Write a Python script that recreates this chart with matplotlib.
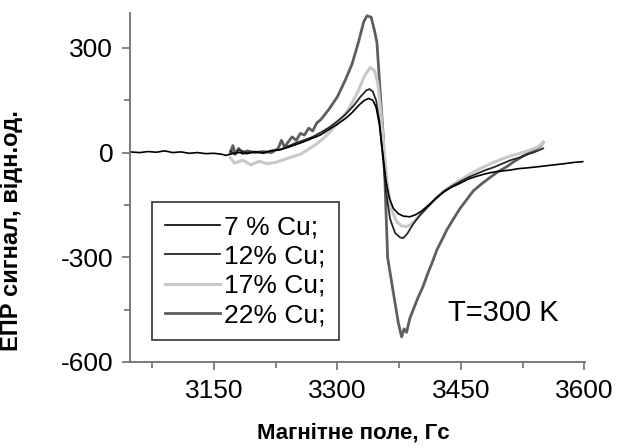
import matplotlib
matplotlib.use("Agg")
import matplotlib.pyplot as plt
from matplotlib.ticker import MultipleLocator

plt.rcParams['font.family'] = ['Liberation Sans', 'DejaVu Sans']
plt.rcParams['axes.unicode_minus'] = False

# EPR derivative spectra (field in Gs, signal in arb. units)
x_7 = [3048, 3060, 3070, 3080, 3090, 3100, 3110, 3120, 3130, 3140, 3150, 3160,
       3165, 3172, 3180, 3190, 3200, 3210, 3220, 3230, 3240, 3258, 3279, 3299,
       3310, 3318, 3327, 3333, 3338, 3343, 3347, 3351, 3355, 3359, 3363, 3368,
       3374, 3380, 3388, 3395, 3402, 3410, 3418, 3428, 3438, 3449, 3459, 3469,
       3478, 3485, 3495, 3510, 3520, 3530, 3546, 3560, 3575, 3588, 3598]
y_7 = [2, 0, 3, 1, 5, 0, 2, -2, 0, -3, -2, -5,
       -8, -3, 0, -3, 2, 0, 5, 8, 15, 30, 50, 80,
       98, 115, 138, 150, 155, 150, 130, 80, 0, -80, -130, -160,
       -175, -182, -184, -178, -168, -152, -135, -115, -100, -88, -76, -68,
       -62, -58, -54, -50, -46, -44, -40, -36, -32, -28, -26]

x_12 = [3170, 3175, 3180, 3190, 3200, 3210, 3220, 3230, 3240, 3250, 3260, 3270,
        3280, 3290, 3300, 3310, 3320, 3328, 3335, 3339, 3343, 3347, 3351, 3355,
        3359, 3364, 3370, 3376, 3380, 3385, 3392, 3400, 3410, 3420, 3430, 3440,
        3450, 3460, 3470, 3480, 3490, 3500, 3510, 3520, 3530, 3540, 3550]
y_12 = [5, -5, 8, 0, 3, -2, 6, 8, 18, 28, 36, 45,
        58, 72, 90, 110, 135, 160, 178, 182, 175, 150, 90, -10,
        -110, -190, -230, -243, -245, -232, -205, -180, -155, -130, -110, -95,
        -82, -70, -60, -50, -42, -32, -22, -15, -6, 2, 12]

x_17 = [3170, 3175, 3185, 3195, 3205, 3215, 3225, 3235, 3245, 3255, 3265, 3275,
        3285, 3295, 3305, 3315, 3325, 3333, 3340, 3345, 3349, 3353, 3357, 3361,
        3366, 3372, 3378, 3384, 3390, 3398, 3408, 3418, 3428, 3440, 3450, 3462,
        3474, 3486, 3498, 3510, 3522, 3535, 3545, 3550]
y_17 = [-15, -30, -22, -35, -25, -32, -28, -20, -12, -5, 10, 25,
        45, 70, 95, 130, 175, 220, 244, 235, 200, 110, 0, -100,
        -165, -198, -210, -212, -205, -185, -160, -135, -112, -92, -78, -60,
        -45, -32, -20, -10, -2, 8, 18, 30]

x_22 = [3170, 3173, 3176, 3180, 3185, 3190, 3200, 3210, 3220, 3228, 3232, 3236,
        3240, 3245, 3250, 3255, 3260, 3265, 3270, 3275, 3280, 3290, 3300, 3310,
        3318, 3326, 3332, 3336, 3341, 3345, 3348, 3352, 3356, 3361, 3368, 3374,
        3378, 3381, 3384, 3388, 3392, 3398, 3404, 3410, 3415, 3421, 3427, 3433,
        3441, 3449, 3457, 3465, 3475, 3485, 3495, 3506, 3515, 3525, 3535, 3546,
        3550]
y_22 = [0, 20, -5, 12, -3, 5, 0, 3, 0, 12, 35, 15,
        30, 45, 35, 55, 50, 70, 62, 85, 95, 125, 160, 210,
        255, 320, 375, 392, 388, 350, 316, 172, 37, -300, -402, -488,
        -528, -505, -515, -475, -451, -415, -384, -345, -316, -278, -250, -221,
        -190, -160, -135, -110, -90, -72, -55, -40, -25, -11, 2, 17,
        29]

labels = ["7 % Cu;", "12% Cu;", "17% Cu;", "22% Cu;"]
x_ticks = [3150, 3300, 3450, 3600]
y_ticks = [-600, -300, 0, 300]

fig = plt.figure(figsize=(6.21, 4.48), dpi=100)
ax = fig.add_axes([0.2093, 0.192, 0.733, 0.779])

l22, = ax.plot(x_22, y_22, color='#5e5e5e', lw=2.0)
l17, = ax.plot(x_17, y_17, color='#c8c8c8', lw=2.2)
l12, = ax.plot(x_12, y_12, color='#262626', lw=1.3)
l7, = ax.plot(x_7, y_7, color='#000000', lw=1.2)

ax.set_xlim(3048, 3601)
ax.set_ylim(-600, 400)
ax.set_xticks(x_ticks)
ax.set_yticks(y_ticks)
ax.xaxis.set_minor_locator(MultipleLocator(75))
ax.yaxis.set_minor_locator(MultipleLocator(150))
ax.tick_params(which='major', length=6, width=1.2, color='#707070',
               labelsize=19, pad=6)
ax.tick_params(which='minor', length=4, width=1.2, color='#707070')

for side in ['top', 'right']:
    ax.spines[side].set_visible(False)
for side in ['left', 'bottom']:
    ax.spines[side].set_color('#707070')
    ax.spines[side].set_linewidth(1.3)

ax.set_xlabel("Магнітне поле, Гс", fontsize=16, fontweight='bold')
ax.set_ylabel("ЕПР сигнал, відн.од.", fontsize=17, fontweight='bold')
ax.xaxis.set_label_coords(0.49, -0.172)
ax.yaxis.set_label_coords(-0.235, 0.378)

leg = ax.legend([l7, l12, l17, l22], labels, loc='upper left',
                bbox_to_anchor=(0.048, 0.458), fontsize=19, frameon=True,
                fancybox=False, handlelength=2.1, handletextpad=0.15,
                labelspacing=0.2, borderpad=0.5, borderaxespad=0)
leg.get_frame().set_edgecolor('black')
leg.get_frame().set_linewidth(1.2)

ax.text(3502, -459, "T=300 K", fontsize=21, va='center', ha='center')

fig.savefig("out.png", dpi=100)
